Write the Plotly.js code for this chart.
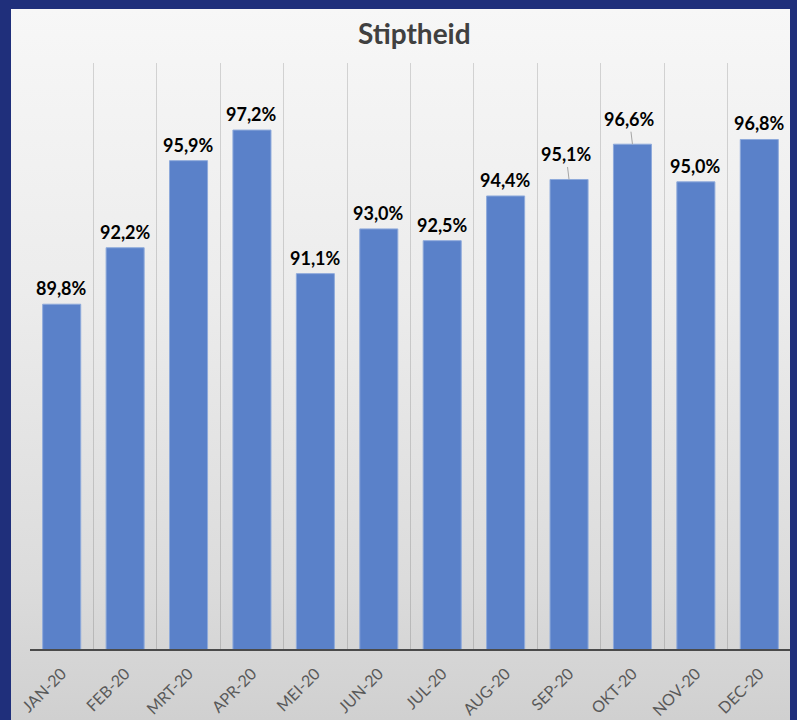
<!DOCTYPE html>
<html>
<head>
<meta charset="utf-8">
<script src="https://cdn.plot.ly/plotly-3.0.1.min.js"></script>
<style>
  html, body { margin: 0; padding: 0; width: 797px; height: 720px; background: #1f2f7b; overflow: hidden; }
  #bg { position: absolute; left: 11px; top: 9px; width: 779px; height: 711px; overflow: hidden;
        background: linear-gradient(to bottom, #f7f7f7 0%, #ececec 40%, #dcdcdc 80%, #d0d0d0 100%); }
  #chart { position: absolute; left: -11px; top: -9px; width: 797px; height: 720px; }
</style>
</head>
<body>
<div id="bg"><div id="chart"></div></div>
<script>
const categories = ["JAN-20","FEB-20","MRT-20","APR-20","MEI-20","JUN-20","JUL-20","AUG-20","SEP-20","OKT-20","NOV-20","DEC-20"];
const values = [89.8, 92.2, 95.9, 97.2, 91.1, 93.0, 92.5, 94.4, 95.1, 96.6, 95.0, 96.8];
const labels = ["89,8%","92,2%","95,9%","97,2%","91,1%","93,0%","92,5%","94,4%","95,1%","96,6%","95,0%","96,8%"];
const movedLabels = ["SEP-20","OKT-20"];

const annotations = categories.map((c, i) => {
  const moved = movedLabels.includes(c);
  const a = {
    x: c, y: values[i], xref: 'x', yref: 'y', text: labels[i],
    font: {family: 'Lato, "Open Sans", sans-serif', size: 18, color: '#000000', weight: 'bold'},
  };
  if (moved) {
    Object.assign(a, {showarrow: true, arrowhead: 0, arrowwidth: 1, arrowcolor: '#a6a6a6',
      ax: -3, ay: -25, standoff: 0});
  } else {
    Object.assign(a, {showarrow: false, yanchor: 'bottom', yshift: 3});
  }
  return a;
});

const trace = {
  type: 'bar', x: categories, y: values,
  marker: {color: '#5a81c9', line: {color: '#8eaadb', width: 1}},
  hoverinfo: 'skip'
};

const layout = {
  width: 797, height: 720,
  paper_bgcolor: 'rgba(0,0,0,0)', plot_bgcolor: 'rgba(0,0,0,0)',
  margin: {l: 30, r: 6, t: 63, b: 71},
  bargap: 0.4,
  showlegend: false,
  title: {text: '<b>Stiptheid</b>', x: 0.505, xref: 'paper', y: 0.952, yanchor: 'middle',
          font: {family: 'Lato, "Open Sans", sans-serif', size: 28, color: '#404040'}},
  xaxis: {
    type: 'category', tickson: 'boundaries', showgrid: true,
    gridcolor: 'rgba(0,0,0,0.14)', gridwidth: 1,
    ticks: '', tickangle: -45, ticklabelstandoff: 7,
    tickfont: {family: 'Lato, "Open Sans", sans-serif', size: 16, color: '#595959'},
    showline: true, linecolor: '#4a4a4a', linewidth: 2,
    zeroline: false
  },
  yaxis: {range: [75.15, 100.05], showgrid: false, showticklabels: false, zeroline: false, showline: false, ticks: ''},
  annotations: annotations
};

Plotly.newPlot('chart', [trace], layout, {displayModeBar: false, staticPlot: true});
</script>
</body>
</html>
